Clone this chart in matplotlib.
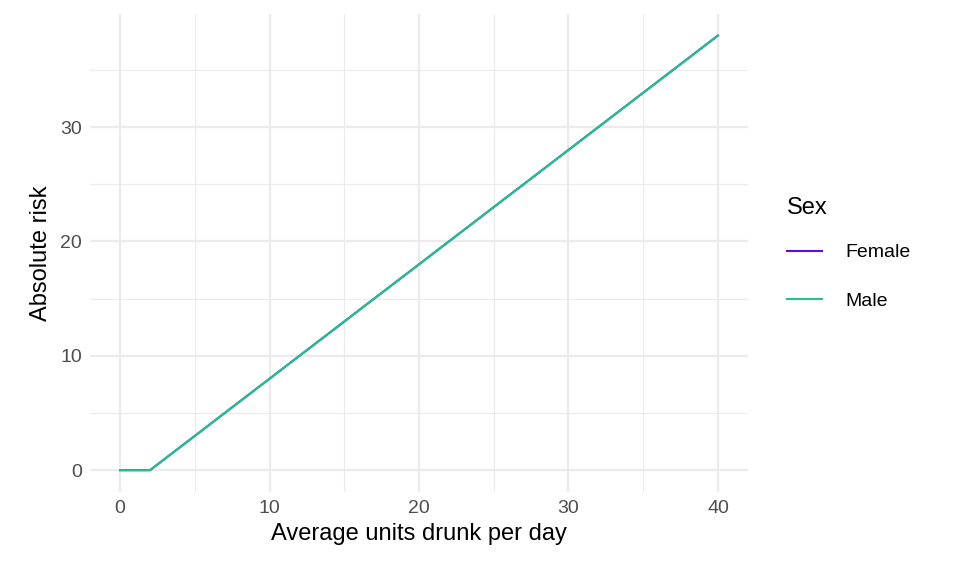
import matplotlib
matplotlib.use("Agg")
import matplotlib.pyplot as plt
from matplotlib.lines import Line2D

plt.rcParams['font.family'] = ['Liberation Sans', 'DejaVu Sans']

units = [0, 2, 40]
female_risk = [0, 0, 38]
male_risk = [0, 0, 38]

fig = plt.figure(figsize=(9.6, 5.76), dpi=100)
ax = fig.add_axes([0.094, 0.146, 0.685, 0.830])

ax.plot(units, female_risk, color='#5a10d8', lw=1.5)
ax.plot(units, male_risk, color='#1fc48a', lw=1.5)

ax.set_xlim(-2, 42)
ax.set_ylim(-1.9, 39.9)
ax.set_xticks([0, 10, 20, 30, 40])
ax.set_yticks([0, 10, 20, 30])
ax.set_xticks([5, 15, 25, 35], minor=True)
ax.set_yticks([5, 15, 25, 35], minor=True)
ax.grid(which='major', color='#ebebeb', lw=1.6)
ax.grid(which='minor', color='#ebebeb', lw=0.8)
ax.set_axisbelow(True)
for s in ax.spines.values():
    s.set_visible(False)
ax.tick_params(which='both', length=0, labelsize=14, labelcolor='#4d4d4d', pad=6)
ax.set_xlabel('Average units drunk per day', fontsize=17, labelpad=4)
ax.set_ylabel('Absolute risk', fontsize=17, labelpad=6)

handles = [Line2D([], [], color='#5a10d8', lw=1.5), Line2D([], [], color='#1fc48a', lw=1.5)]
leg = fig.legend(handles, ['Female', 'Male'], title='Sex', loc='center left',
                 bbox_to_anchor=(0.812, 0.56), frameon=False, fontsize=14,
                 title_fontsize=17, handlelength=1.8, handletextpad=1.2,
                 labelspacing=1.6, borderaxespad=0)
leg._legend_box.align = 'left'
leg._legend_box.sep = 18

fig.savefig('out.png', dpi=100)
